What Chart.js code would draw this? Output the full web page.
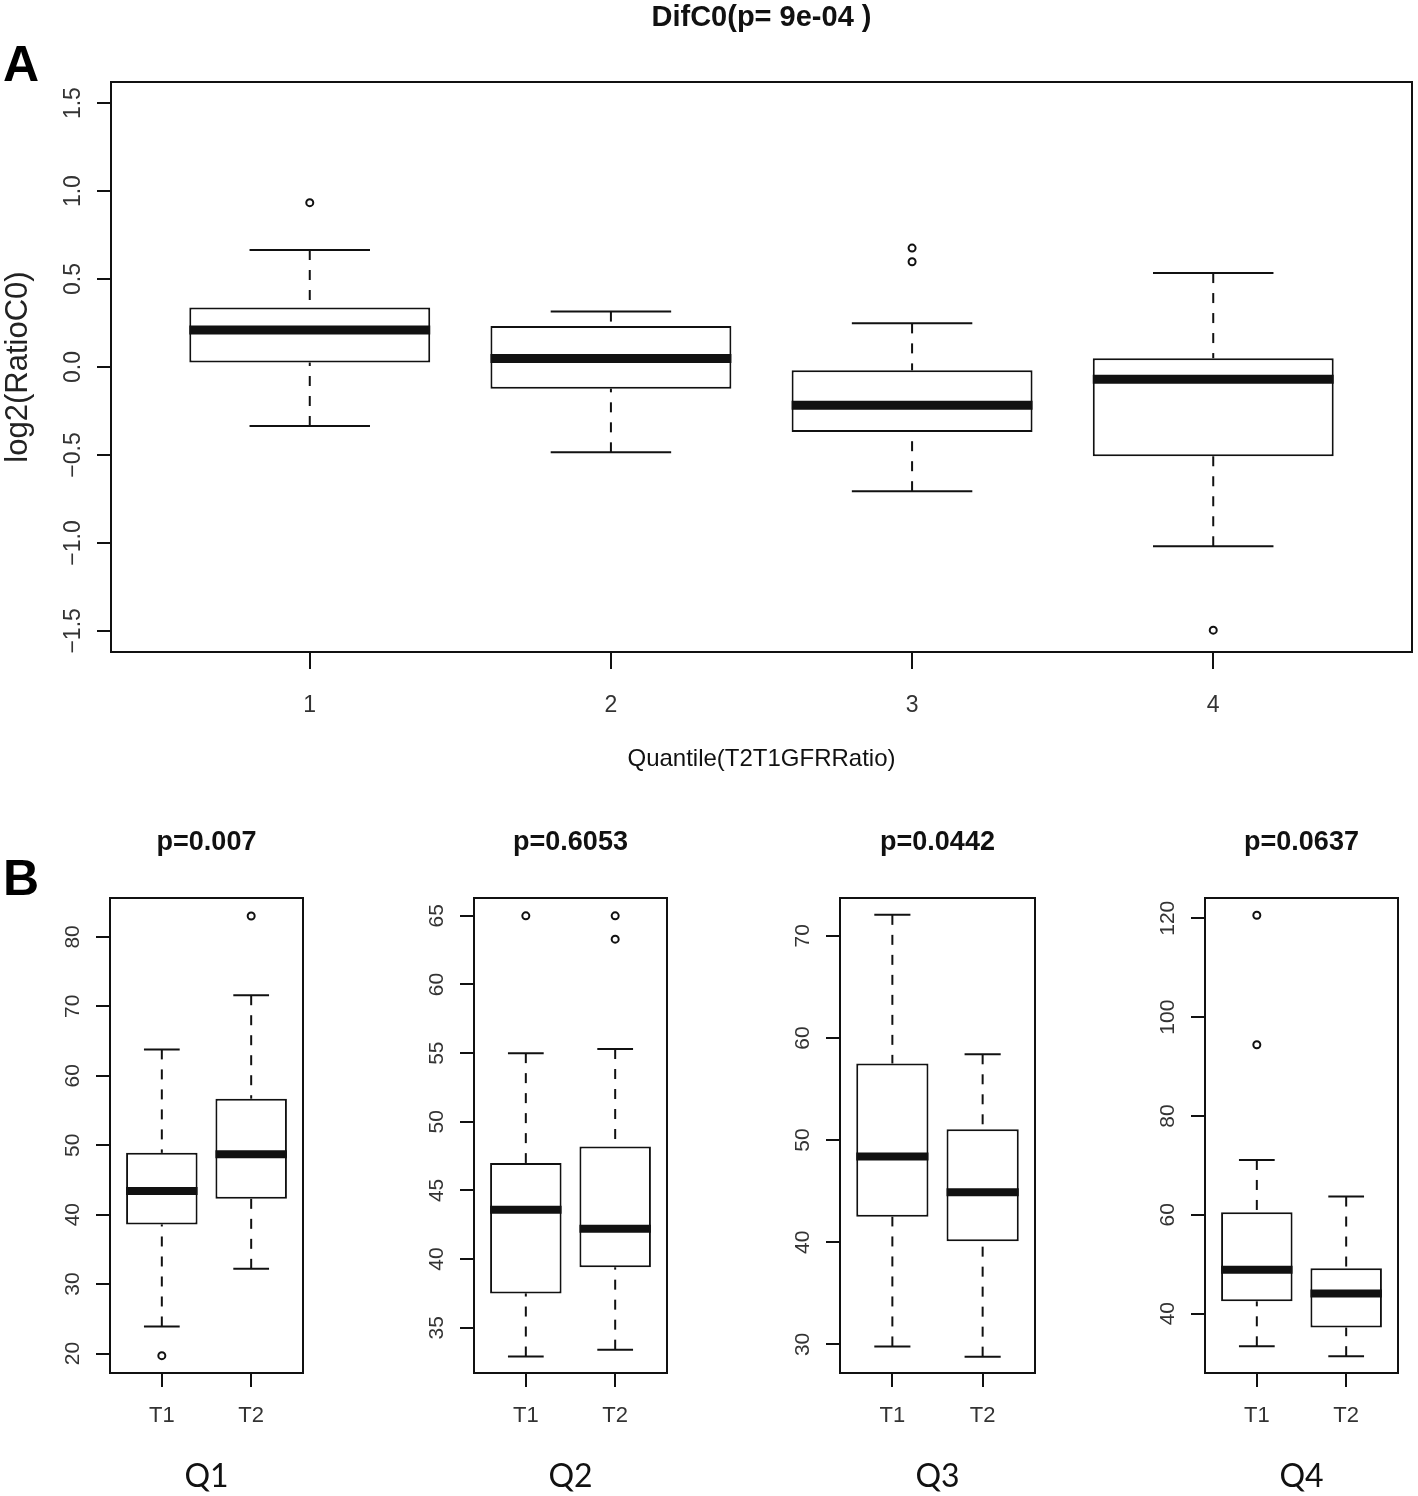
<!DOCTYPE html>
<html>
<head>
<meta charset="utf-8">
<title>DifC0 boxplots</title>
<script src="https://cdn.jsdelivr.net/npm/chart.js@4.4.1/dist/chart.umd.min.js"></script>
<style>
  html, body { margin: 0; background: #fff; }
  #fig { position: relative; width: 1418px; height: 1496px; overflow: hidden; background: #fff; }
  #fig canvas { position: absolute; }
  .tag { position: absolute; left: 3px; font: bold 50px/50px "Liberation Sans", Arial, sans-serif; color: #000; }
</style>
</head>
<body>
<div id="fig">
  <div class="tag" style="top:39px">A</div>
  <div class="tag" style="top:853px">B</div>
  <canvas id="chA" width="1418" height="800" style="left:0;top:0"></canvas>
</div>
<script>
// panel A: log2(RatioC0) by quantile of T2/T1 GFR ratio
const quantiles  = [1, 2, 3, 4];
const ratioLow   = [-0.335, -0.485, -0.706, -1.019];
const ratioQ1    = [0.025, -0.123, -0.370, -0.507];
const ratioMed   = [0.210, 0.048, -0.218, -0.070];
const ratioQ3    = [0.338, 0.233, -0.019, 0.050];
const ratioHigh  = [0.665, 0.315, 0.248, 0.534];
const ratioOut   = [[0.934], [], [0.598, 0.676], [-1.496]];
const ratioTicks = [-1.5, -1, -0.5, 0, 0.5, 1, 1.5];
const ratioRange = [-1.62, 1.62];

// panel B: T1 vs T2 per quartile
const visits   = ['T1', 'T2'];
const gfrNames = ['Q1', 'Q2', 'Q3', 'Q4'];
const gfrP     = ['p=0.007', 'p=0.6053', 'p=0.0442', 'p=0.0637'];
const gfrLow   = [[23.9, 32.2], [32.9, 33.4], [29.8, 28.8], [33.4, 31.4]];
const gfrQ1    = [[38.6, 42.3], [37.5, 39.4], [42.5, 40.1], [42.5, 37.2]];
const gfrMed   = [[43.4, 48.7], [43.6, 42.2], [48.4, 44.9], [48.9, 44.1]];
const gfrQ3    = [[48.9, 56.7], [47.0, 48.2], [57.5, 51.05], [60.5, 49.2]];
const gfrHigh  = [[63.8, 71.6], [55.0, 55.3], [72.05, 58.4], [71.1, 63.7]];
const gfrOut   = [[[19.7], [83.0]], [[65.0], [63.3, 65.0]], [[], []], [[94.4, 120.6], []]];
const gfrTicks = [[20, 30, 40, 50, 60, 70, 80], [35, 40, 45, 50, 55, 60, 65], [30, 40, 50, 60, 70], [40, 60, 80, 100, 120]];
const gfrRange = [[17.2, 85.6], [31.7, 66.3], [27.2, 73.7], [28.0, 124.1]];

const ink = '#111';
const grey = '#333';
const FONT = '"Liberation Sans", Arial, Helvetica, sans-serif';
Chart.defaults.font.family = FONT;
Chart.defaults.color = grey;

// whiskers, caps and medians, placed from the bar elements and the y scale
function boxParts(st, dash, medW) {
  return {
    id: 'boxParts',
    afterDatasetsDraw(chart) {
      const ctx = chart.ctx, y = chart.scales.y;
      const seg = (x1, y1, x2, y2) => { ctx.beginPath(); ctx.moveTo(x1, y1); ctx.lineTo(x2, y2); ctx.stroke(); };
      ctx.save();
      ctx.strokeStyle = ink;
      chart.getDatasetMeta(0).data.forEach((bar, i) => {
        const half = bar.width / 2;
        const lo = y.getPixelForValue(st.low[i]), hi = y.getPixelForValue(st.high[i]);
        const q1 = y.getPixelForValue(st.q1[i]), q3 = y.getPixelForValue(st.q3[i]);
        const md = y.getPixelForValue(st.med[i]);
        ctx.lineWidth = 2;
        ctx.setLineDash(dash);
        seg(bar.x, hi, bar.x, q3);
        seg(bar.x, lo, bar.x, q1);
        ctx.setLineDash([]);
        seg(bar.x - half / 2, hi, bar.x + half / 2, hi);
        seg(bar.x - half / 2, lo, bar.x + half / 2, lo);
        ctx.lineWidth = medW;
        seg(bar.x - half, md, bar.x + half, md);
      });
      ctx.restore();
    }
  };
}

// y tick labels turned 90deg like base R
function sideLabels(size, decimals) {
  return {
    id: 'sideLabels',
    afterDraw(chart) {
      const ctx = chart.ctx, y = chart.scales.y, left = chart.chartArea.left;
      ctx.save();
      ctx.fillStyle = grey;
      ctx.font = size + 'px ' + FONT;
      ctx.textAlign = 'center';
      ctx.textBaseline = 'alphabetic';
      y.ticks.forEach(t => {
        const txt = (t.value < 0 ? '\u2212' : '') + Math.abs(t.value).toFixed(decimals);
        ctx.save();
        ctx.translate(left - 31, y.getPixelForValue(t.value));
        ctx.rotate(-Math.PI / 2);
        ctx.fillText(txt, 0, 0);
        ctx.restore();
      });
      ctx.restore();
    }
  };
}

function boxChart(canvas, s) {
  return new Chart(canvas, {
    type: 'bar',
    data: {
      datasets: [
        {
          type: 'bar',
          data: s.xs.map((x, i) => ({ x, y: [s.q1[i], s.q3[i]] })),
          backgroundColor: '#fff', borderColor: ink, borderWidth: 2, borderSkipped: false,
          barPercentage: 1, categoryPercentage: 0.8
        },
        {
          type: 'scatter',
          data: s.out.flatMap((vals, i) => vals.map(v => ({ x: s.xs[i], y: v }))),
          pointRadius: 3.5, pointBorderWidth: 2, pointBackgroundColor: '#fff',
          borderColor: ink, backgroundColor: '#fff'
        }
      ]
    },
    options: {
      responsive: false, animation: false, events: [],
      layout: { padding: 0 },
      plugins: { legend: { display: false }, tooltip: { enabled: false } },
      scales: {
        x: {
          type: 'linear', position: 'bottom', offset: false,
          min: s.xRange[0], max: s.xRange[1],
          afterBuildTicks: a => { a.ticks = s.xs.map(v => ({ value: v })); },
          afterFit: a => { a.height = s.bottomH; },
          grid: { display: true, offset: false, drawOnChartArea: false, drawTicks: true, tickLength: s.xTickLen, color: ink, lineWidth: 2 },
          border: { display: true, color: ink, width: 2 },
          ticks: { color: grey, font: { size: s.xFont }, padding: s.xPad, maxRotation: 0, autoSkip: false,
                   callback: v => s.xLabels[s.xs.indexOf(v)] },
          title: { display: true, text: s.xTitle, color: '#111', font: s.xTitleFont, padding: { top: 0, bottom: s.xTitlePad } }
        },
        x2: {
          type: 'linear', position: 'top', min: 0, max: 1,
          afterFit: a => { a.height = s.topH; },
          grid: { display: false }, ticks: { display: false },
          border: { display: true, color: ink, width: 2 },
          title: { display: true, text: s.title, color: '#111', font: { size: s.titleSize, weight: 'bold' }, padding: { top: s.titlePad, bottom: 0 } }
        },
        y: {
          type: 'linear', position: 'left', min: s.range[0], max: s.range[1],
          afterBuildTicks: a => { a.ticks = s.ticks.map(v => ({ value: v })); },
          afterFit: a => { a.width = s.leftW; },
          grid: { display: true, drawOnChartArea: false, drawTicks: true, tickLength: 14, color: ink, lineWidth: 2 },
          border: { display: true, color: ink, width: 2 },
          ticks: { display: false },
          title: { display: !!s.yTitle, text: s.yTitle || '', color: '#222', font: { size: 31 }, padding: { top: 0, bottom: 0 } }
        },
        y2: {
          type: 'linear', position: 'right', min: 0, max: 1,
          afterFit: a => { a.width = 4; },
          grid: { display: false }, ticks: { display: false },
          border: { display: true, color: ink, width: 2 }
        }
      }
    },
    plugins: [boxParts(s, [10, 10], s.medW), sideLabels(s.yFont, s.decimals)]
  });
}

boxChart(document.getElementById('chA'), {
  xs: quantiles, xLabels: quantiles.map(String), xRange: [0.34, 4.66],
  low: ratioLow, q1: ratioQ1, med: ratioMed, q3: ratioQ3, high: ratioHigh, out: ratioOut,
  ticks: ratioTicks, range: ratioRange, decimals: 1,
  title: 'DifC0(p= 9e-04 )', titleSize: 29, titlePad: 1, topH: 82,
  xTitle: 'Quantile(T2T1GFRRatio)', xTitleFont: { size: 24 }, xTitlePad: 26.6,
  yTitle: 'log2(RatioC0)',
  bottomH: 148, leftW: 111, xTickLen: 17, xFont: 23, xPad: 22.6, yFont: 23, medW: 9
});

const fig = document.getElementById('fig');
const frameLeft = [110, 474, 840, 1205];
gfrNames.forEach((name, k) => {
  const cv = document.createElement('canvas');
  cv.width = 309; cv.height = 700;
  cv.style.left = (frameLeft[k] - 110) + 'px';
  cv.style.top = '800px';
  fig.appendChild(cv);
  const xs = visits.map((_, i) => i + 1);
  boxChart(cv, {
    xs, xLabels: visits, xRange: [0.42, 2.58],
    low: gfrLow[k], q1: gfrQ1[k], med: gfrMed[k], q3: gfrQ3[k], high: gfrHigh[k], out: gfrOut[k],
    ticks: gfrTicks[k], range: gfrRange[k], decimals: 0,
    title: gfrP[k], titleSize: 27, titlePad: 26.3, topH: 98,
    xTitle: name, xTitleFont: { size: 32, family: 'Lato, "Liberation Sans", sans-serif' }, xTitlePad: 4,
    yTitle: null,
    bottomH: 127, leftW: 110, xTickLen: 14, xFont: 22, xPad: 15.5, yFont: 21, medW: 8
  });
});
</script>
</body>
</html>
